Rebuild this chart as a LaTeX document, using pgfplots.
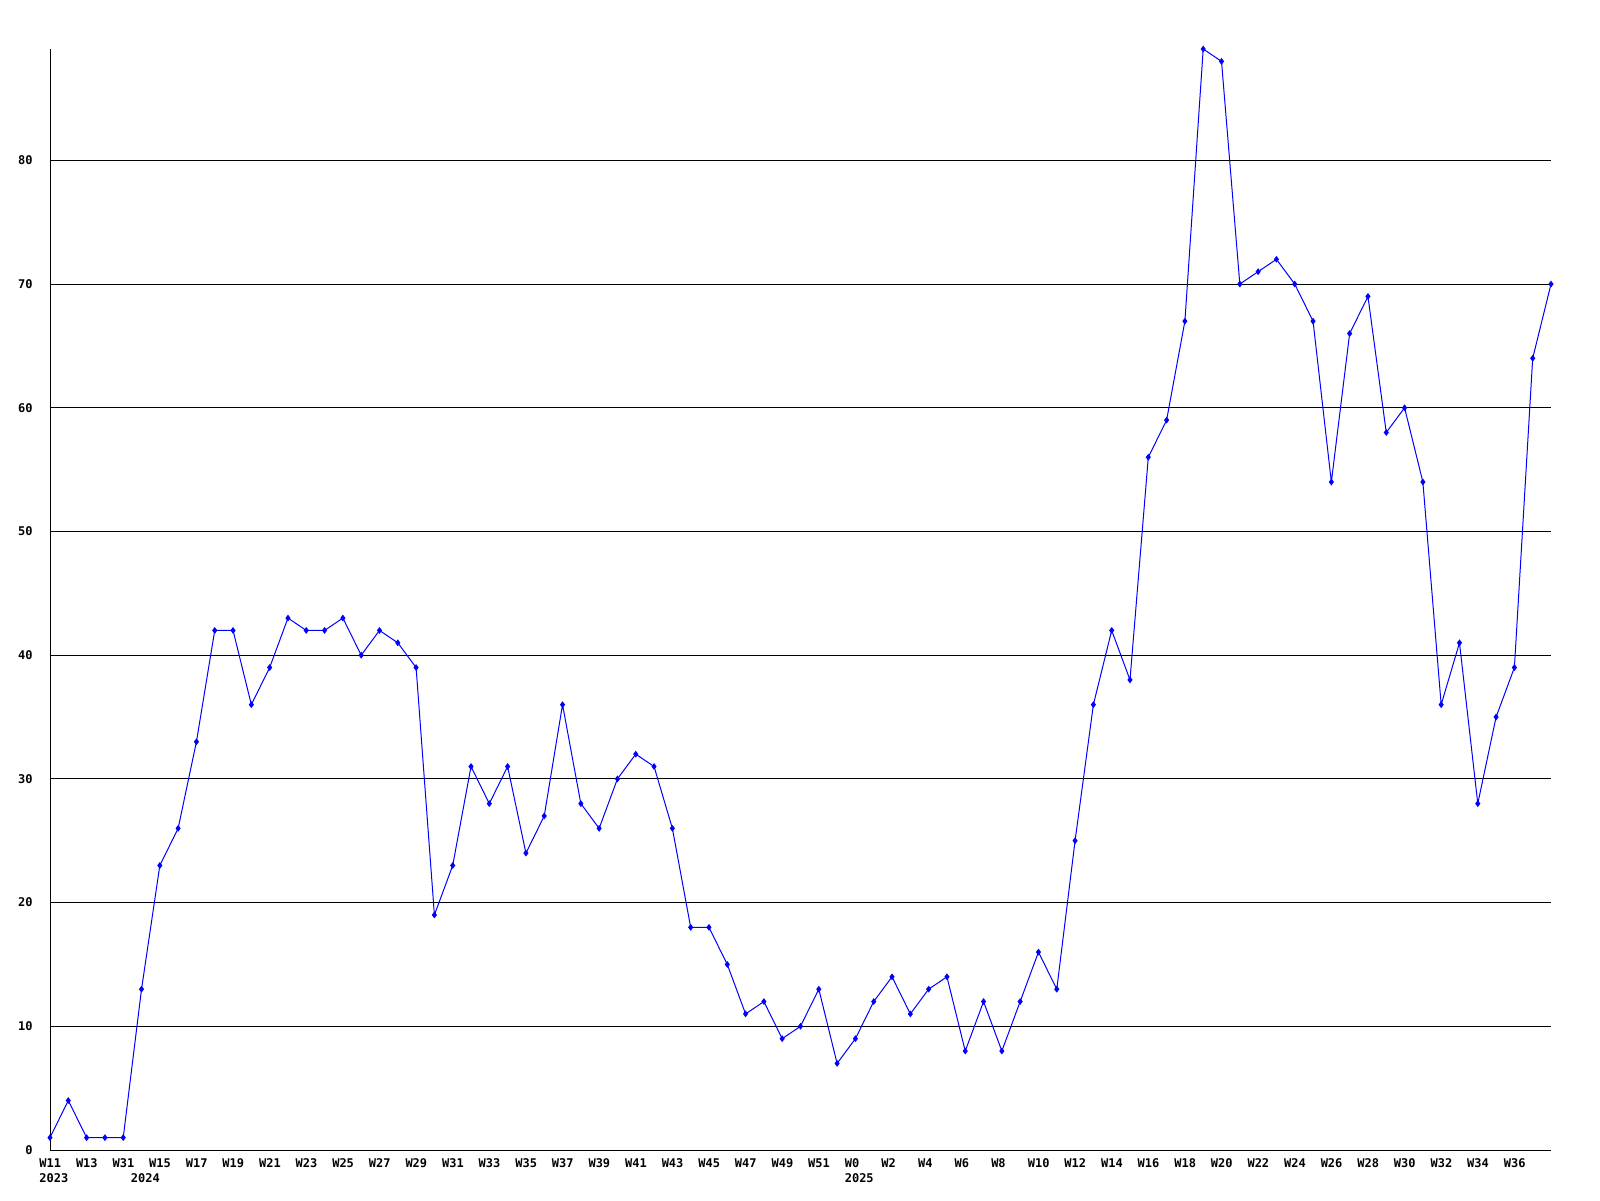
\documentclass[border=0pt]{standalone}
\usepackage{fontspec}
\setmonofont{DejaVu Sans Mono}
\usepackage{pgfplots}
\pgfplotsset{compat=1.18}
\begin{document}
\begin{tikzpicture}
\useasboundingbox (0,0) rectangle (800pt,600pt);
\fill[white] (0,0) rectangle (800pt,600pt);
\begin{axis}[
  at={(25pt,25pt)}, anchor=south west,
  scale only axis, width=750.5pt, height=550.5pt,
  xmin=0, xmax=82, ymin=0, ymax=89,
  clip=false,
  axis lines*=left,
  axis line style={black, line width=0.5pt},
  major tick length=0pt,
  ytick={0,10,...,80},
  ymajorgrids, grid style={black, line width=0.5pt},
  xtick={0,2,...,80},
  xticklabels={W11,W13,W31,W15,W17,W19,W21,W23,W25,W27,W29,W31,W33,W35,W37,W39,W41,W43,W45,W47,W49,W51,W0,W2,W4,W6,W8,W10,W12,W14,W16,W18,W20,W22,W24,W26,W28,W30,W32,W34,W36},
  tick label style={font=\fontsize{6}{7}\selectfont\ttfamily\bfseries, inner sep=0pt},
  /pgf/number format/assume math mode=true,
  yticklabel style={anchor=east, xshift=-8.5pt},
  xticklabel style={anchor=north west, xshift=-5.5pt, yshift=-4.2pt},
  extra x ticks={0,5,44},
  extra x tick labels={2023,2024,2025},
  extra x tick style={major tick length=0pt, xticklabel style={yshift=-7.6pt}},
]
\addplot[blue, line width=0.5pt, mark=diamond*, mark size=1.3pt, mark options={blue}] coordinates {
(0,1)(1,4)(2,1)(3,1)(4,1)(5,13)(6,23)(7,26)(8,33)(9,42)
(10,42)(11,36)(12,39)(13,43)(14,42)(15,42)(16,43)(17,40)(18,42)(19,41)
(20,39)(21,19)(22,23)(23,31)(24,28)(25,31)(26,24)(27,27)(28,36)(29,28)
(30,26)(31,30)(32,32)(33,31)(34,26)(35,18)(36,18)(37,15)(38,11)(39,12)
(40,9)(41,10)(42,13)(43,7)(44,9)(45,12)(46,14)(47,11)(48,13)(49,14)
(50,8)(51,12)(52,8)(53,12)(54,16)(55,13)(56,25)(57,36)(58,42)(59,38)
(60,56)(61,59)(62,67)(63,89)(64,88)(65,70)(66,71)(67,72)(68,70)(69,67)
(70,54)(71,66)(72,69)(73,58)(74,60)(75,54)(76,36)(77,41)(78,28)(79,35)
(80,39)(81,64)(82,70)
};
\end{axis}
\end{tikzpicture}
\end{document}
